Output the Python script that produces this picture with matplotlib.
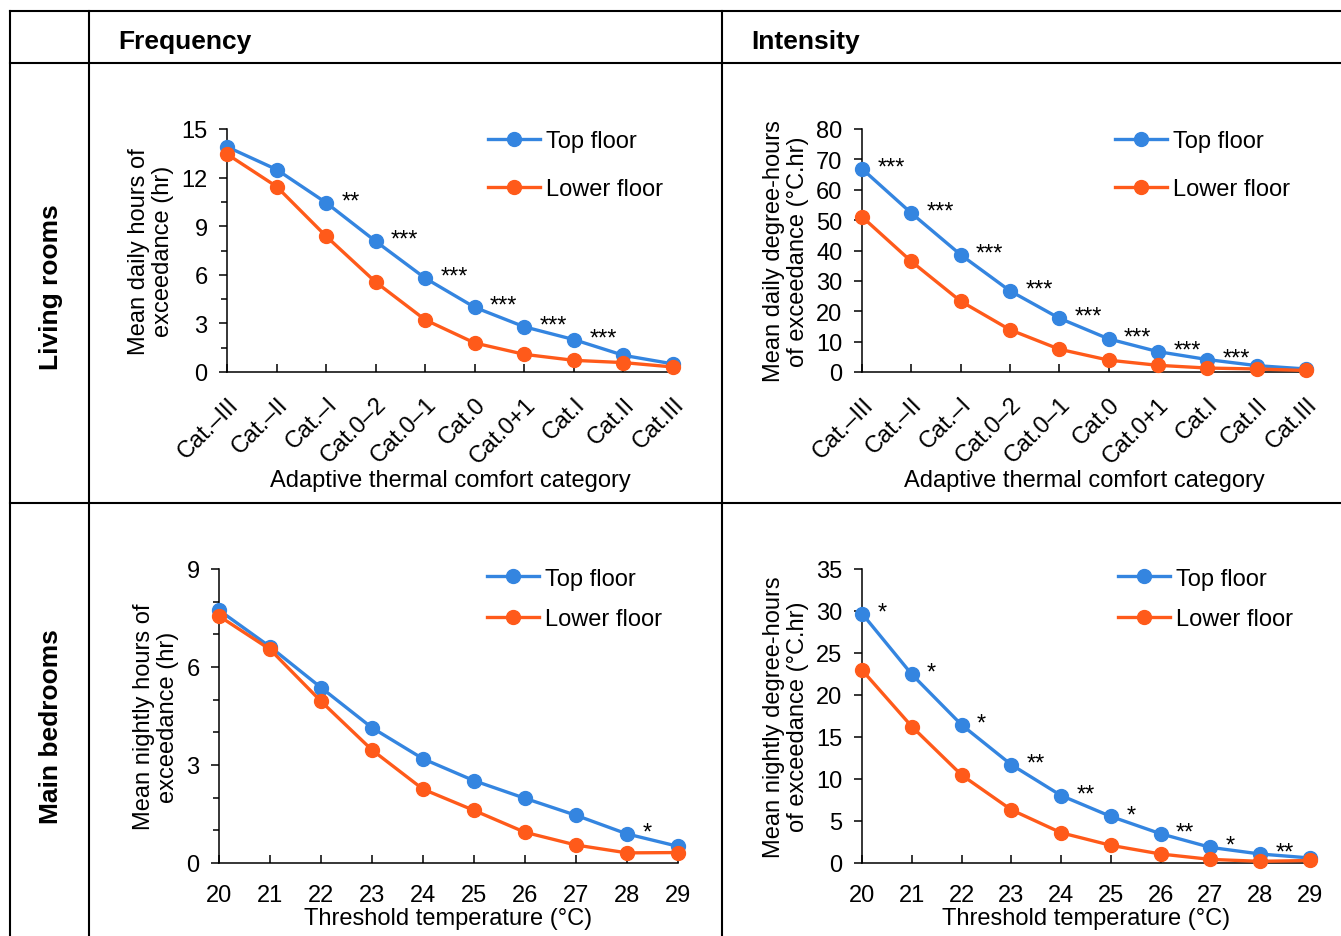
import numpy as np
import matplotlib
matplotlib.use("Agg")
import matplotlib.pyplot as plt
from matplotlib.lines import Line2D

plt.rcParams['font.family'] = ['Liberation Sans', 'DejaVu Sans']
plt.rcParams['font.size'] = 17

BLUE = '#3485e0'
ORANGE = '#ff5a1a'

# adaptive comfort categories (living rooms)
categories = ['Cat.\u2013III', 'Cat.\u2013II', 'Cat.\u2013I', 'Cat.0\u20132', 'Cat.0\u20131',
              'Cat.0', 'Cat.0+1', 'Cat.I', 'Cat.II', 'Cat.III']
freq_top = [13.9, 12.5, 10.45, 8.07, 5.79, 3.99, 2.79, 2.0, 1.03, 0.5]
freq_low = [13.45, 11.45, 8.38, 5.55, 3.22, 1.79, 1.09, 0.72, 0.58, 0.31]
freq_sig = ['', '', '**', '***', '***', '***', '***', '***', '', '']
inten_top = [66.9, 52.3, 38.6, 26.7, 17.7, 10.9, 6.7, 4.1, 2.1, 1.0]
inten_low = [51.1, 36.4, 23.3, 13.9, 7.5, 3.9, 2.2, 1.3, 1.0, 0.5]
inten_sig = ['***'] * 8 + ['', '']

# threshold temperatures (main bedrooms)
temps = [20, 21, 22, 23, 24, 25, 26, 27, 28, 29]
night_top = [7.74, 6.62, 5.37, 4.14, 3.19, 2.52, 1.98, 1.46, 0.89, 0.51]
night_low = [7.56, 6.54, 4.95, 3.46, 2.26, 1.61, 0.94, 0.55, 0.31, 0.32]
night_sig = [''] * 8 + ['*', '']
deg_top = [29.7, 22.46, 16.45, 11.7, 8.03, 5.54, 3.48, 1.86, 1.07, 0.6]
deg_low = [22.97, 16.25, 10.48, 6.33, 3.6, 2.1, 1.07, 0.43, 0.2, 0.3]
deg_sig = ['*', '*', '*', '**', '**', '*', '**', '*', '**', '']

W, H = 1341, 937
fig = plt.figure(figsize=(W / 100, H / 100), dpi=100)


def px_axes(x0, x1, ytop, ybot):
    return fig.add_axes([x0 / W, 1 - ybot / H, (x1 - x0) / W, (ybot - ytop) / H])


def panel(ax, x, top, low, sig, ymax, ystep, yminor, ylabel, xlabel,
          leg_anchor, leg_space, xticklabels=None):
    ax.plot(x, top, '-o', color=BLUE, lw=2.4, ms=10, label='Top floor', clip_on=False, zorder=3)
    ax.plot(x, low, '-o', color=ORANGE, lw=2.4, ms=10, label='Lower floor', clip_on=False, zorder=3)
    for xi, yi, s in zip(x, top, sig):
        if s:
            ax.annotate(s, (xi, yi), xytext=(11, 1), textcoords='offset points',
                        ha='left', va='center', fontsize=17)
    ax.set_xlim(x[0], x[-1])
    ax.set_ylim(0, ymax)
    ax.set_yticks(np.arange(0, ymax + 0.01, ystep))
    if yminor:
        ax.set_yticks(np.arange(0, ymax + 0.01, yminor), minor=True)
    ax.set_xticks(x)
    if xticklabels is not None:
        ax.set_xticklabels(xticklabels, rotation=45, ha='right', rotation_mode='anchor')
    for side in ('top', 'right'):
        ax.spines[side].set_visible(False)
    for side in ('left', 'bottom'):
        ax.spines[side].set_linewidth(1.1)
    ax.tick_params(axis='y', direction='out', length=6, width=1.1, pad=8)
    ax.tick_params(axis='y', which='minor', direction='out', length=4, width=1.1)
    ax.tick_params(axis='x', direction='in', length=6, width=1.1, pad=15)
    ax.set_ylabel(ylabel, linespacing=1.15, labelpad=5)
    ax.set_xlabel(xlabel, labelpad=1)
    ax.legend(loc='upper left', bbox_to_anchor=leg_anchor, frameon=False,
              handlelength=2.2, handletextpad=0.25, labelspacing=leg_space, borderpad=0,
              borderaxespad=0, fontsize=17)


ax1 = px_axes(227, 673, 130, 373)
panel(ax1, np.arange(10), freq_top, freq_low, freq_sig, 15, 3, 1.5,
      'Mean daily hours of\nexceedance (hr)', 'Adaptive thermal comfort category',
      (0.585, 0.995), 1.1, categories)

ax2 = px_axes(862, 1306, 130, 373)
panel(ax2, np.arange(10), inten_top, inten_low, inten_sig, 80, 10, None,
      'Mean daily degree-hours\nof exceedance (\u00b0C.hr)', 'Adaptive thermal comfort category',
      (0.57, 0.995), 1.1, categories)

ax3 = px_axes(219, 678, 570, 864)
panel(ax3, temps, night_top, night_low, night_sig, 9, 3, 1,
      'Mean nightly hours of\nexceedance (hr)', 'Threshold temperature (\u00b0C)',
      (0.584, 1.005), 0.8)

ax4 = px_axes(862, 1310, 570, 864)
panel(ax4, temps, deg_top, deg_low, deg_sig, 35, 5, None,
      'Mean nightly degree-hours\nof exceedance (\u00b0C.hr)', 'Threshold temperature (\u00b0C)',
      (0.571, 1.005), 0.8)

# table grid around the panels
grid_kw = dict(color='black', lw=1.5, transform=fig.transFigure, clip_on=False)
for y in (12, 64, 504):
    fig.add_artist(Line2D([10 / W, 1.0], [1 - y / H, 1 - y / H], **grid_kw))
for x in (10, 89, 722):
    fig.add_artist(Line2D([x / W, x / W], [1 - 12 / H, 0.0], **grid_kw))

fig.text(118 / W, 1 - 42 / H, 'Frequency', fontsize=19, fontweight='bold', va='center', ha='left')
fig.text(751 / W, 1 - 42 / H, 'Intensity', fontsize=19, fontweight='bold', va='center', ha='left')
fig.text(51 / W, 1 - 287 / H, 'Living rooms', fontsize=19, fontweight='bold',
         rotation=90, va='center', ha='center')
fig.text(51 / W, 1 - 727 / H, 'Main bedrooms', fontsize=19, fontweight='bold',
         rotation=90, va='center', ha='center')

fig.savefig('out.png', dpi=100)
